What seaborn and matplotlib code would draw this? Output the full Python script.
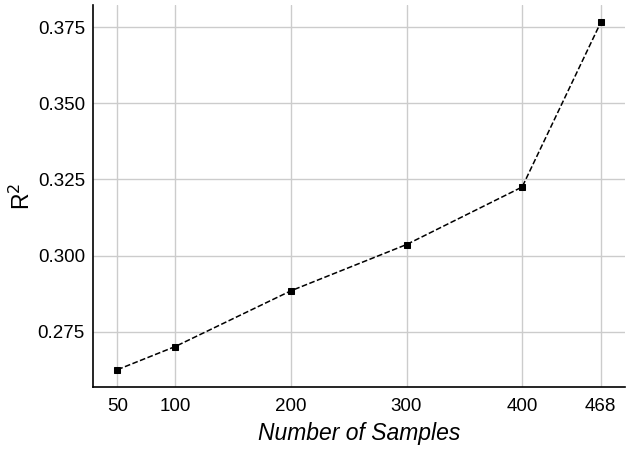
import matplotlib
matplotlib.use("Agg")
import matplotlib.pyplot as plt
import seaborn as sns
import pandas as pd

samples = [50, 100, 200, 300, 400, 468]
r2 = [0.2625, 0.2701, 0.2884, 0.3036, 0.3225, 0.3766]
xticks = [50, 100, 200, 300, 400, 468]
yticks = [0.275, 0.300, 0.325, 0.350, 0.375]

sns.set_theme(style="whitegrid")
plt.rcParams['font.family'] = ['Liberation Sans', 'DejaVu Sans']

df = pd.DataFrame({"samples": samples, "r2": r2})

fig = plt.figure(figsize=(6.3, 4.49), dpi=100)
ax = fig.add_axes([0.148, 0.138, 0.844, 0.851])
sns.lineplot(data=df, x="samples", y="r2", ax=ax, color="black",
             linestyle="--", linewidth=1.1, marker="s", markersize=4.5,
             markeredgecolor="black")

ax.set_xticks(xticks)
ax.set_xticklabels([str(v) for v in xticks])
ax.set_yticks(yticks)
ax.set_yticklabels([f"{v:.3f}" for v in yticks])
ax.tick_params(axis="both", labelsize=13.5, length=0, colors="black")
ax.tick_params(axis="x", pad=8)
ax.tick_params(axis="y", pad=6)
ax.set_xlabel("Number of Samples", fontsize=16.5, style="italic", color="black", labelpad=5)
ax.set_ylabel("R$^2$", fontsize=16.5, color="black", labelpad=2)

ax.grid(True, color="#cccccc", linewidth=1)
for s in ["top", "right"]:
    ax.spines[s].set_visible(False)
for s in ["left", "bottom"]:
    ax.spines[s].set_visible(True)
    ax.spines[s].set_color("black")
    ax.spines[s].set_linewidth(1.2)

fig.savefig("out.png", dpi=100)
